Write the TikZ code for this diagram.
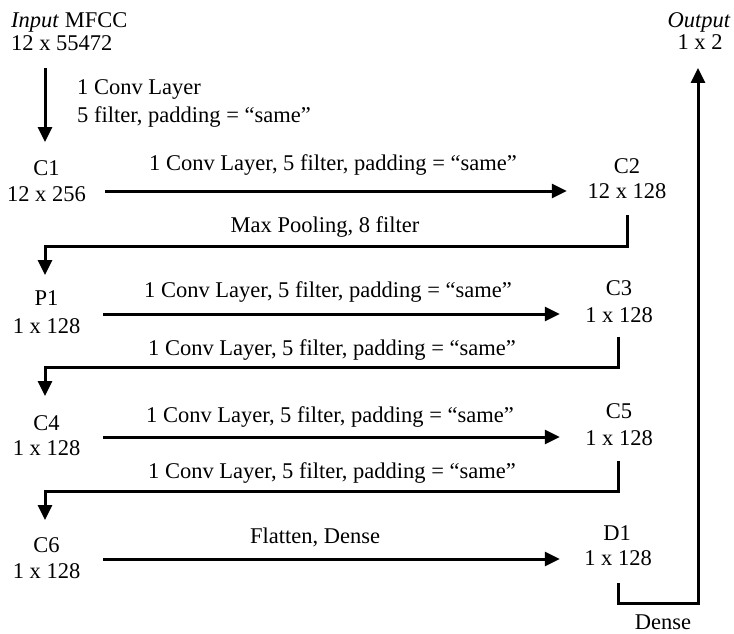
\documentclass[tikz,border=0pt]{standalone}
\usepackage{fontspec}
\setmainfont{Liberation Serif}
\usetikzlibrary{arrows.meta,calc}
\tikzset{
  txt/.style={inner sep=0pt, anchor=base, font=\fontsize{22.5}{27}\selectfont},
  txtw/.style={txt, anchor=base west},
  conn/.style={line width=3pt, draw=black},
  arr/.style={conn, -{Triangle[length=15pt,width=14pt]}}
}
\begin{document}
\begin{tikzpicture}[x=1pt,y=-1pt]
\useasboundingbox (0,0) rectangle (734,634);
% input
\node[txtw] (in1) at (11,27.5) {\textit{Input} MFCC};
\node[txtw] (in2) at (11,51) {12 x 55472};
\node[txtw] (lab0a) at (77,95) {1 Conv Layer};
\node[txtw] (lab0b) at (77,122) {5 filter, padding = “same”};
% stages
\node[txt] (c1n) at (46.5,175) {C1};
\node[txt] (c1s) at (46.5,201.5) {12 x 256};
\node[txt] (c2n) at (627,173) {C2};
\node[txt] (c2s) at (627,198) {12 x 128};
\node[txt] (p1n) at (46.5,305) {P1};
\node[txt] (p1s) at (46.5,333) {1 x 128};
\node[txt] (c3n) at (619,295) {C3};
\node[txt] (c3s) at (619,322) {1 x 128};
\node[txt] (c4n) at (46.5,430) {C4};
\node[txt] (c4s) at (46.5,455) {1 x 128};
\node[txt] (c5n) at (619,418) {C5};
\node[txt] (c5s) at (619,445) {1 x 128};
\node[txt] (c6n) at (46.5,552) {C6};
\node[txt] (c6s) at (46.5,578) {1 x 128};
\node[txt] (d1n) at (617,540) {D1};
\node[txt] (d1s) at (618,565) {1 x 128};
\node[txt] (out1) at (699,27.5) {\textit{Output}};
\node[txt] (out2) at (700,50) {1 x 2};
% labels
\node[txt] (lab1) at (333,170) {1 Conv Layer, 5 filter, padding = “same”};
\node[txt] (lab2) at (325,232) {Max Pooling, 8 filter};
\node[txt] (lab3) at (328,297) {1 Conv Layer, 5 filter, padding = “same”};
\node[txt] (lab4) at (332,355) {1 Conv Layer, 5 filter, padding = “same”};
\node[txt] (lab5) at (330,422) {1 Conv Layer, 5 filter, padding = “same”};
\node[txt] (lab6) at (332,478) {1 Conv Layer, 5 filter, padding = “same”};
\node[txt] (lab7) at (315,543) {Flatten, Dense};
\node[txt] (dense) at (663,629) {Dense};
% connectors
\draw[arr] ($(in2.base west)+(34,17)$) -- ($(c1n.base)+(-1.5,-33)$);
\draw[arr] ($(c1s.base east)+(19,-10.5)$) -- ($(c2s.base west)+(-20.6,-7)$);
\draw[arr] ($(c2s.base)+(0,17)$) -- ++(0,31) -| ($(p1n.base)+(-1.5,-30)$);
\draw[arr] ($(p1s.base east)+(22.75,-19)$) -- ($(c3s.base west)+(-25.25,-8)$);
\draw[arr] ($(c3s.base)+(-1,15)$) -- ++(0,30) -| ($(c4n.base)+(-1.5,-34)$);
\draw[arr] ($(c4s.base east)+(22.75,-18)$) -- ($(c5s.base west)+(-25.25,-8)$);
\draw[arr] ($(c5s.base)+(-1,16)$) -- ++(0,30) -| ($(c6n.base)+(-1.5,-32)$);
\draw[arr] ($(c6s.base east)+(22.75,-19)$) -- ($(d1s.base west)+(-24.25,-6)$);
\draw[arr] ($(d1s.base)+(0,18)$) -- ++(0,20) -| ($(out2.base)+(-2,18)$);
\end{tikzpicture}
\end{document}
